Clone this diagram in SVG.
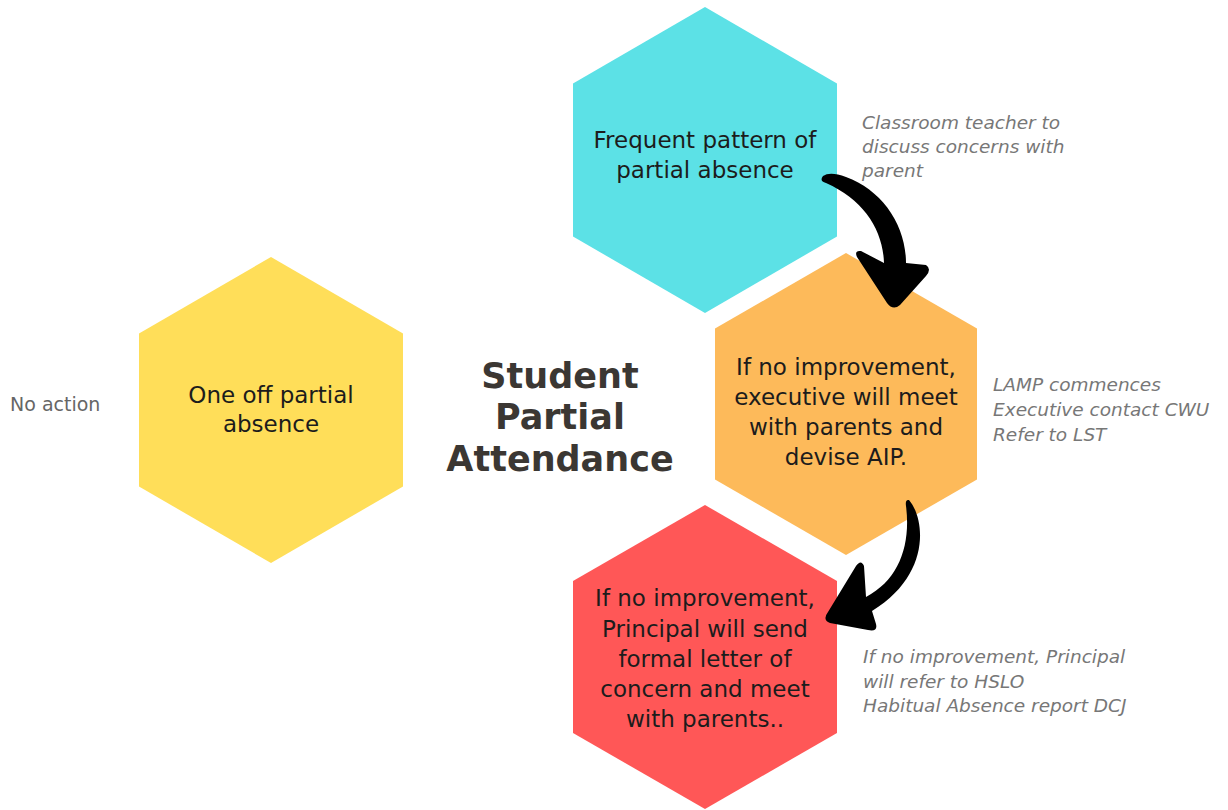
<svg xmlns="http://www.w3.org/2000/svg" width="1228" height="810" viewBox="0 0 1228 810">
<style>
.hex-text{font-family:"DejaVu Sans",sans-serif;font-size:23px;fill:#1c1c1c;text-anchor:middle}
.title{font-family:"DejaVu Sans",sans-serif;font-weight:bold;font-size:35px;fill:#3b3733;text-anchor:middle}
.note{font-family:"DejaVu Sans",sans-serif;font-style:italic;font-size:18.5px;fill:#777}
.plain{font-family:"DejaVu Sans",sans-serif;font-size:19px;fill:#666}
.arrow{fill:#000}
</style>
<rect width="1228" height="810" fill="#fff"/>
<g id="node-frequent">
<polygon points="705,7 837,83.5 837,236.5 705,313 573,236.5 573,83.5" fill="#5CE1E6"/>
<text class="hex-text" x="705" y="148">Frequent pattern of</text>
<text class="hex-text" x="705" y="178">partial absence</text>
</g>
<g id="node-executive">
<polygon points="846,253 977,328.5 977,479.5 846,555 715,479.5 715,328.5" fill="#FDBA5A"/>
<text class="hex-text" x="846" y="375">If no improvement,</text>
<text class="hex-text" x="846" y="405">executive will meet</text>
<text class="hex-text" x="846" y="435">with parents and</text>
<text class="hex-text" x="846" y="465">devise AIP.</text>
</g>
<g id="node-principal">
<polygon points="705,505 837,581 837,733 705,809 573,733 573,581" fill="#FF5757"/>
<text class="hex-text" x="705" y="606">If no improvement,</text>
<text class="hex-text" x="705" y="637">Principal will send</text>
<text class="hex-text" x="705" y="667">formal letter of</text>
<text class="hex-text" x="705" y="697">concern and meet</text>
<text class="hex-text" x="705" y="727">with parents..</text>
</g>
<g id="node-oneoff">
<polygon points="271,257 403,333.5 403,486.5 271,563 139,486.5 139,333.5" fill="#FFDE59"/>
<text class="hex-text" x="271" y="403">One off partial</text>
<text class="hex-text" x="271" y="432">absence</text>
</g>
<g id="title">
<text class="title" x="560" y="388">Student</text>
<text class="title" x="560" y="429">Partial</text>
<text class="title" x="560" y="471">Attendance</text>
</g>
<g id="notes">
<text class="plain" x="10" y="411">No action</text>
<text class="note" x="862" y="129">Classroom teacher to</text>
<text class="note" x="862" y="153">discuss concerns with</text>
<text class="note" x="862" y="177">parent</text>
<text class="note" x="993" y="391">LAMP commences</text>
<text class="note" x="993" y="416">Executive contact CWU</text>
<text class="note" x="993" y="441">Refer to LST</text>
<text class="note" x="863" y="663">If no improvement, Principal</text>
<text class="note" x="863" y="688">will refer to HSLO</text>
<text class="note" x="863" y="712">Habitual Absence report DCJ</text>
</g>
<g id="connectors">
<path class="arrow" d="M 823,176 Q 830,171 846,177 C 882,190 906,225 906,263 L 926,265 Q 932,269 926,276 L 900,305 Q 893,311 887,303 L 857,257 Q 854,250 861,251 L 884,263 C 883,230 864,200 826,183 Q 819,181 823,176 Z"/>
<path class="arrow" d="M 909,500 C 926,520 930,576 872,611 L 876,624 Q 878,632 868,630 L 830,623 Q 822,620 828,612 L 856,566 Q 861,559 864,566 L 866,597 C 899,580 911,545 906,506 Q 905,499 909,500 Z"/>
</g>
</svg>
